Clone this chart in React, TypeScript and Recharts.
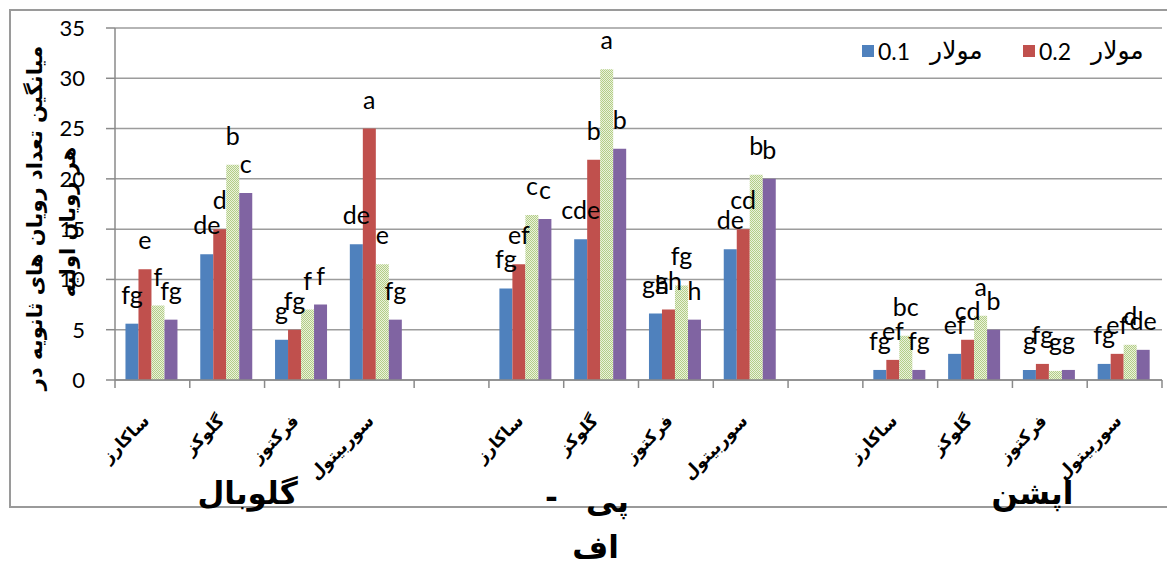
import React from "react";
import { BarChart, Bar, XAxis, YAxis, CartesianGrid, LabelList } from "recharts";

const SUGARS = ["ساکارز", "گلوکز", "فرکتوز", "سوربیتول"];
const GROUP_LINES = [["گلوبال"], ["پی -", "اف"], ["اپشن"]];

// mean values, 12 per series (3 cultivars x 4 sugars)
const M01 = [5.6, 12.5, 4.0, 13.5, 9.1, 14.0, 6.6, 13.0, 1.0, 2.6, 1.0, 1.6];
const M02 = [11.0, 15.0, 5.0, 25.0, 11.5, 21.9, 7.0, 15.0, 2.0, 4.0, 1.6, 2.6];
const M03 = [7.4, 21.4, 7.0, 11.5, 16.4, 30.9, 9.4, 20.4, 4.4, 6.4, 0.9, 3.5];
const M04 = [6.0, 18.6, 7.5, 6.0, 16.0, 23.0, 6.0, 20.0, 1.0, 5.0, 1.0, 3.0];

// significance letters
const L01 = ["fg", "de", "g", "de", "fg", "cde", "gh", "de", "fg", "ef", "g", "fg"];
const L02 = ["e", "d", "fg", "a", "ef", "b", "gh", "cd", "ef", "cd", "fg", "ef"];
const L03 = ["f", "b", "f", "e", "c", "a", "fg", "b", "bc", "a", "g", "d"];
const L04 = ["fg", "c", "f", "fg", "c", "b", "h", "b", "fg", "b", "g", "de"];

const Y_TICKS = [0, 5, 10, 15, 20, 25, 30, 35];
const LEGEND = [
  { num: "0.1", word: "مولار", color: "#4f81bd" },
  { num: "0.2", word: "مولار", color: "#c0504d" },
];

// 14 slots: 4 sugars + empty slot between cultivars
const data: any[] = [];
GROUP_LINES.forEach((_, g) => {
  SUGARS.forEach((s, i) => {
    const k = g * 4 + i;
    data.push({
      key: `${g}-${i}`, name: s,
      m01: M01[k], m02: M02[k], m03: M03[k], m04: M04[k],
      l01: L01[k], l02: L02[k], l03: L03[k], l04: L04[k],
    });
  });
  if (g < GROUP_LINES.length - 1) data.push({ key: `gap${g}`, name: "" });
});

const LEFT = 115;
const RIGHT = 5;
const W = 1167;
const H = 562;
const BAND = (W - LEFT - RIGHT) / data.length;
const GROUP_DX = [-17, -43, 20];
const GROUP_DY = [0, 8, 0];
const AR = "'DejaVu Sans', sans-serif";
const LAT = "Lato, 'Liberation Sans', sans-serif";

const barLabel = (props: any) => {
  const { x, y, width, value } = props;
  if (!value) return null;
  return (
    <text x={x + width / 2} y={y - 20} textAnchor="middle" fontSize={25} fontFamily={LAT} fill="#000">
      {value}
    </text>
  );
};

// a trailing " -" is drawn as its own text so it sits to the left, as in RTL
const GroupLine = ({ x, y, text }: { x: number; y: number; text: string }) => {
  const style = { fontSize: 31, fontWeight: "bold" as const, fontFamily: AR, fill: "#000" };
  if (text.endsWith(" -")) {
    return (
      <g>
        <text x={x - 44} y={y - 4} textAnchor="middle" {...style}>-</text>
        <text x={x + 12} y={y} textAnchor="middle" {...style}>{text.slice(0, -2)}</text>
      </g>
    );
  }
  return <text x={x} y={y} textAnchor="middle" {...style}>{text}</text>;
};

const CatTick = (props: any) => {
  const { x, y, index } = props;
  const row = data[index];
  const g = Math.floor(index / 5);
  const pos = index % 5;
  return (
    <g>
      <line x1={x - BAND / 2} x2={x - BAND / 2} y1={y} y2={y + 8} stroke="#8a8a8a" strokeWidth={1.5} />
      {index === data.length - 1 && (
        <line x1={x + BAND / 2} x2={x + BAND / 2} y1={y} y2={y + 8} stroke="#8a8a8a" strokeWidth={1.5} />
      )}
      {row && row.name && (
        <text
          x={x - 2}
          y={y + 42}
          textAnchor="end"
          fontSize={17}
          fontWeight="bold"
          fontFamily={AR}
          fill="#000"
          transform={`rotate(-45 ${x - 2} ${y + 42})`}
        >
          {row.name}
        </text>
      )}
      {pos === 1 &&
        GROUP_LINES[g].map((ln, j) => (
          <GroupLine key={j} x={x + BAND / 2 + GROUP_DX[g]} y={y + 124 + GROUP_DY[g] + j * 46} text={ln} />
        ))}
    </g>
  );
};

const YTitle = () => (
  <g fontFamily={AR} fontWeight="bold" fontSize={21} fill="#000">
    <text x={35} y={218} textAnchor="middle" transform="rotate(-90 35 218)" dy="0.35em">
      میانگین تعداد رویان های ثانویه در
    </text>
    <text x={68} y={222} textAnchor="middle" transform="rotate(-90 68 222)" dy="0.35em">
      هر رویان اولیه
    </text>
  </g>
);

export default function App() {
  return (
    <div style={{ position: "absolute", left: 0, top: 0, width: W, height: H, background: "#fff", overflow: "hidden" }}>
      <svg width={0} height={0} style={{ position: "absolute" }}>
        <defs>
          <pattern id="greenDots" width={2} height={2} patternUnits="userSpaceOnUse">
            <rect width={2} height={2} fill="#eaf1dc" />
            <rect width={1} height={1} fill="#b3ce86" />
            <rect x={1} y={1} width={1} height={1} fill="#b3ce86" />
          </pattern>
        </defs>
      </svg>
      <div
        style={{
          position: "absolute", left: 9, top: 9, width: 1170, height: 499,
          border: "2px solid #9a9a9a", boxSizing: "border-box",
        }}
      />
      <div style={{ position: "absolute", left: 0, top: 0 }}>
        <BarChart
          width={W}
          height={H}
          data={data}
          margin={{ top: 28, right: RIGHT, left: LEFT - 60, bottom: 0 }}
          barCategoryGap="14%"
          barGap={0}
        >
          <CartesianGrid vertical={false} stroke="#9c9c9c" strokeWidth={1.5} />
          <XAxis
            dataKey="key"
            height={H - 380}
            interval={0}
            tickLine={false}
            tickSize={0}
            tickMargin={0}
            axisLine={{ stroke: "#8a8a8a", strokeWidth: 1.5 }}
            tick={<CatTick />}
          />
          <YAxis
            width={60}
            domain={[0, 35]}
            ticks={Y_TICKS}
            interval={0}
            tickSize={9}
            tickMargin={21}
            axisLine={{ stroke: "#8a8a8a", strokeWidth: 1.5 }}
            tickLine={{ stroke: "#8a8a8a", strokeWidth: 1.5 }}
            tick={{ fontSize: 22, fill: "#000", fontFamily: LAT }}
            label={{ content: () => <YTitle /> }}
          />
          <Bar dataKey="m01" fill="#4f81bd" isAnimationActive={false}>
            <LabelList dataKey="l01" content={barLabel} />
          </Bar>
          <Bar dataKey="m02" fill="#c0504d" isAnimationActive={false}>
            <LabelList dataKey="l02" content={barLabel} />
          </Bar>
          <Bar dataKey="m03" fill="url(#greenDots)" isAnimationActive={false}>
            <LabelList dataKey="l03" content={barLabel} />
          </Bar>
          <Bar dataKey="m04" fill="#8064a2" isAnimationActive={false}>
            <LabelList dataKey="l04" content={barLabel} />
          </Bar>
        </BarChart>
      </div>
      <div style={{ position: "absolute", left: 862, top: 36, display: "flex", alignItems: "center", color: "#000" }}>
        {LEGEND.map((it) => (
          <div key={it.num} style={{ display: "flex", alignItems: "center", width: 161 }}>
            <span style={{ width: 12, height: 12, background: it.color, display: "inline-block", marginRight: 4 }} />
            <span style={{ fontFamily: LAT, fontSize: 23 }}>{it.num}</span>
            <span style={{ fontFamily: AR, fontSize: 25, marginLeft: 20 }}>{it.word}</span>
          </div>
        ))}
      </div>
    </div>
  );
}
